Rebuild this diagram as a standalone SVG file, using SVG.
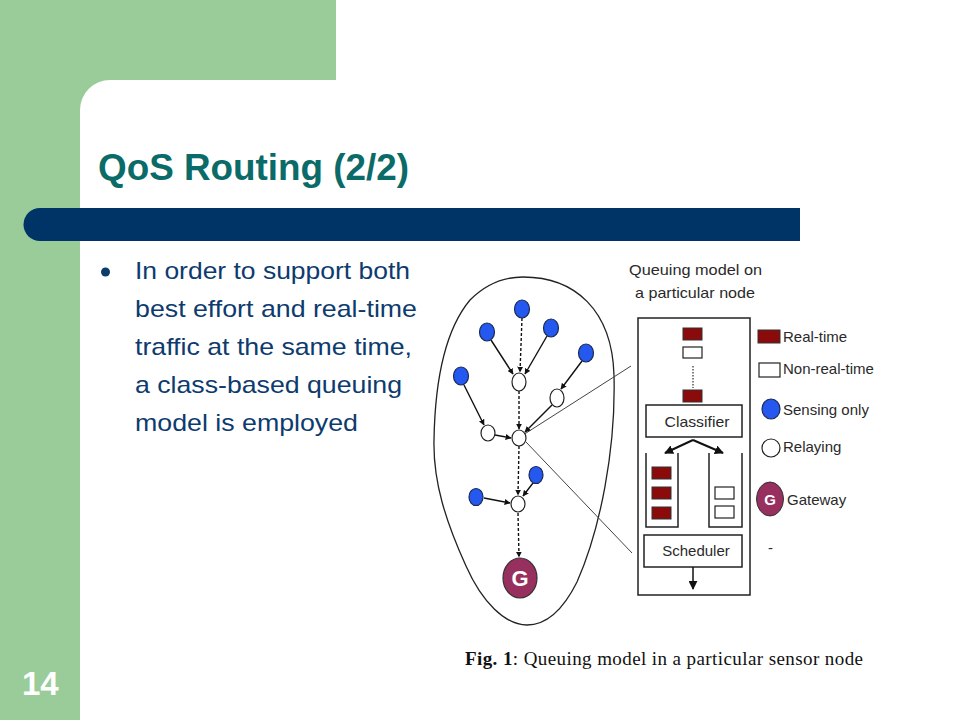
<svg xmlns="http://www.w3.org/2000/svg" width="960" height="720" viewBox="0 0 960 720">
<style>
.body{font-family:"Liberation Sans",Arial,sans-serif;font-size:24px;fill:#0d3b6e}
.fig{font-family:"Liberation Sans",Arial,sans-serif;font-size:15px;fill:#2a2a2a}
.blue{fill:#2458ee;stroke:#1a2a55;stroke-width:1.2}
.relay{fill:#fff;stroke:#222;stroke-width:1.2}
.e{stroke:#111;stroke-width:1.4;fill:none;marker-end:url(#ah)}
.d{stroke:#111;stroke-width:1.4;fill:none;stroke-dasharray:3 2;marker-end:url(#ah)}
.ln{stroke:#222;stroke-width:1.5;fill:none}
.rt{fill:#8b0a0a;stroke:#333;stroke-width:1}
.nrt{fill:#fff;stroke:#222;stroke-width:1.2}
</style>
<defs>
<marker id="ah" viewBox="0 0 10 10" refX="9" refY="5" markerWidth="6" markerHeight="6" orient="auto" markerUnits="userSpaceOnUse">
<path d="M0,0 L10,5 L0,10 Z" fill="#111"/>
</marker>
<marker id="ah2" viewBox="0 0 10 10" refX="9" refY="5" markerWidth="9" markerHeight="9" orient="auto" markerUnits="userSpaceOnUse">
<path d="M0,0 L10,5 L0,10 Z" fill="#111"/>
</marker>
</defs>
<rect width="960" height="720" fill="#fff"/>
<g id="background">
<rect x="0" y="0" width="80" height="720" fill="#99cc99"/>
<rect x="0" y="0" width="336" height="80" fill="#99cc99"/>
<path d="M80 80 L110 80 A30 30 0 0 0 80 110 Z" fill="#99cc99"/>
<path d="M40 208 L800 208 L800 241 L40 241 A16.5 16.5 0 0 1 40 208 Z" fill="#003366"/>
</g>
<g id="title">
<text x="98" y="180" font-family="'Liberation Sans',Arial,sans-serif" font-weight="bold" font-size="36" fill="#0b6b68" textLength="311" lengthAdjust="spacingAndGlyphs">QoS Routing (2/2)</text>
</g>
<g id="page-number">
<text x="22" y="695" font-family="'Liberation Sans',Arial,sans-serif" font-weight="bold" font-size="33" fill="#fff">14</text>
</g>
<g id="bullet">
<circle cx="105.5" cy="272" r="4.5" fill="#0d3b6e"/>
<text class="body" x="135" y="279" textLength="275" lengthAdjust="spacingAndGlyphs">In order to support both</text>
<text class="body" x="135" y="317" textLength="282" lengthAdjust="spacingAndGlyphs">best effort and real-time</text>
<text class="body" x="135" y="355" textLength="277" lengthAdjust="spacingAndGlyphs">traffic at the same time,</text>
<text class="body" x="135" y="393" textLength="267" lengthAdjust="spacingAndGlyphs">a class-based queuing</text>
<text class="body" x="135" y="431" textLength="223" lengthAdjust="spacingAndGlyphs">model is employed</text>
</g>
<g id="region">
<path d="M523 277 C575 277 612 310 614 375 C616 450 600 530 577 582 C562 612 545 625 527 625 C505 625 482 602 466 566 C446 522 433 482 434 440 C435 380 445 330 470 300 C485 285 503 277 523 277 Z" fill="none" stroke="#222" stroke-width="1.3"/>
</g>
<g id="zoom-lines">
<line x1="523" y1="435" x2="631" y2="366" stroke="#444" stroke-width="1"/>
<line x1="526" y1="442" x2="632" y2="553" stroke="#444" stroke-width="1"/>
</g>
<g id="connectors">
<line class="d" x1="522" y1="318" x2="520" y2="372"/>
<line class="e" x1="491" y1="340" x2="513" y2="374"/>
<line class="e" x1="547" y1="336" x2="525" y2="374"/>
<line class="d" x1="519" y1="391" x2="519" y2="429"/>
<line class="e" x1="582" y1="361" x2="561" y2="389"/>
<line class="e" x1="552" y1="405" x2="525" y2="432"/>
<line class="e" x1="464" y1="385" x2="484" y2="425"/>
<line class="e" x1="495" y1="435" x2="511" y2="438"/>
<line class="d" x1="519" y1="446" x2="518" y2="495"/>
<line class="e" x1="484" y1="498" x2="510" y2="503"/>
<line class="e" x1="533" y1="483" x2="523" y2="496"/>
<line class="d" x1="518" y1="513" x2="519" y2="557"/>
</g>
<g id="node-b1"><ellipse class="blue" cx="522" cy="309" rx="7.5" ry="9"/></g>
<g id="node-b2"><ellipse class="blue" cx="487" cy="332" rx="7.5" ry="9"/></g>
<g id="node-b3"><ellipse class="blue" cx="551" cy="328" rx="7.5" ry="9"/></g>
<g id="node-b4"><ellipse class="blue" cx="586" cy="353" rx="7.5" ry="9"/></g>
<g id="node-b5"><ellipse class="blue" cx="461" cy="376" rx="7.5" ry="9"/></g>
<g id="node-r1"><ellipse class="relay" cx="519" cy="382" rx="7" ry="9"/></g>
<g id="node-r2"><ellipse class="relay" cx="557" cy="398" rx="7" ry="9"/></g>
<g id="node-r3"><ellipse class="relay" cx="488" cy="433" rx="7" ry="8"/></g>
<g id="node-r4"><ellipse class="relay" cx="519" cy="438" rx="7" ry="8"/></g>
<g id="node-b6"><ellipse class="blue" cx="536" cy="475" rx="7" ry="8.5"/></g>
<g id="node-b7"><ellipse class="blue" cx="476" cy="497" rx="7" ry="8.5"/></g>
<g id="node-r5"><ellipse class="relay" cx="518" cy="504" rx="7" ry="8"/></g>
<g id="node-gateway">
<ellipse cx="520" cy="578" rx="17" ry="20" fill="#97305f" stroke="#333" stroke-width="1.2"/>
<text x="520" y="586" text-anchor="middle" font-family="'Liberation Sans',Arial,sans-serif" font-size="22" font-weight="bold" fill="#fff">G</text>
</g>
<g id="queue-header">
<text class="fig" x="629" y="275" font-size="16" textLength="133" lengthAdjust="spacingAndGlyphs">Queuing model on</text>
<text class="fig" x="635" y="298" font-size="16" textLength="120" lengthAdjust="spacingAndGlyphs">a particular node</text>
</g>
<g id="queue-box">
<rect x="638" y="318" width="112" height="277" class="ln"/>
<rect x="683" y="328" width="19" height="12" class="rt"/>
<rect x="683" y="347" width="19" height="11" class="nrt"/>
<line x1="693" y1="366" x2="693" y2="388" stroke="#555" stroke-width="1.5" stroke-dasharray="1.5 1.5"/>
<rect x="683" y="390" width="19" height="12" class="rt"/>
</g>
<g id="classifier">
<rect x="646" y="405" width="96" height="32" class="ln" fill="#fff"/>
<text class="fig" x="697" y="427" text-anchor="middle" textLength="65" lengthAdjust="spacingAndGlyphs">Classifier</text>
</g>
<g id="classifier-arrows">
<line x1="693" y1="440" x2="665" y2="453" stroke="#111" stroke-width="2" marker-end="url(#ah2)"/>
<line x1="693" y1="440" x2="723" y2="453" stroke="#111" stroke-width="2" marker-end="url(#ah2)"/>
</g>
<g id="queue-rt">
<path d="M646 453 L646 527 L678 527 L678 453" class="ln"/>
<rect x="652" y="467" width="19" height="12" class="rt"/>
<rect x="652" y="487" width="19" height="12" class="rt"/>
<rect x="652" y="507" width="19" height="12" class="rt"/>
</g>
<g id="queue-nrt">
<path d="M709 453 L709 527 L742 527 L742 453" class="ln"/>
<rect x="715" y="487" width="19" height="12" class="nrt"/>
<rect x="715" y="506" width="19" height="12" class="nrt"/>
</g>
<g id="scheduler">
<rect x="644" y="535" width="98" height="32" class="ln" fill="#fff"/>
<text class="fig" x="696" y="556" text-anchor="middle">Scheduler</text>
<line x1="693" y1="567" x2="693" y2="589" stroke="#111" stroke-width="1.5" marker-end="url(#ah2)"/>
</g>
<g id="legend">
<rect x="758" y="330" width="22" height="13" class="rt"/>
<text class="fig" x="783" y="342">Real-time</text>
<rect x="759" y="363" width="21" height="14" class="nrt"/>
<text class="fig" x="783" y="374">Non-real-time</text>
<ellipse class="blue" cx="771" cy="409" rx="9" ry="10"/>
<text class="fig" x="783" y="415">Sensing only</text>
<ellipse class="relay" cx="771" cy="448" rx="9" ry="9"/>
<text class="fig" x="783" y="452">Relaying</text>
<ellipse cx="770" cy="499" rx="13.5" ry="17" fill="#97305f" stroke="#333" stroke-width="1"/>
<text x="770" y="505" text-anchor="middle" font-family="'Liberation Sans',Arial,sans-serif" font-size="15" font-weight="bold" fill="#fff">G</text>
<text class="fig" x="787" y="505">Gateway</text>
<text class="fig" x="768" y="553">-</text>
</g>
<g id="caption">
<text x="465" y="665" font-family="'Liberation Serif','Times New Roman',serif" font-size="19" fill="#111" textLength="398" lengthAdjust="spacing"><tspan font-weight="bold">Fig. 1</tspan>: Queuing model in a particular sensor node</text>
</g>
</svg>
